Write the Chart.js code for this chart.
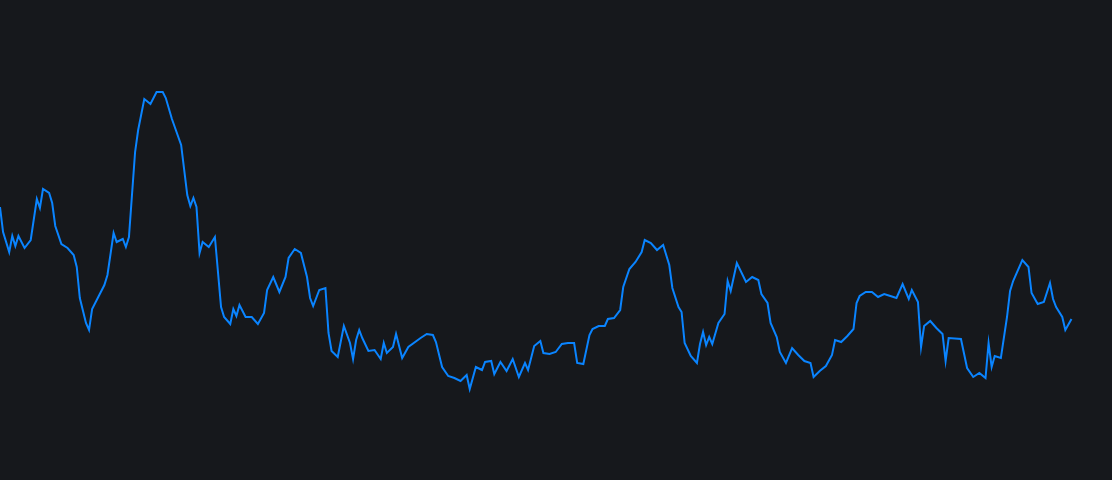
<!DOCTYPE html>
<html>
<head>
<meta charset="utf-8">
<script src="https://cdn.jsdelivr.net/npm/chart.js@4"></script>
<style>
  html, body { margin: 0; padding: 0; background: #16181c; }
  #wrap { width: 1112px; height: 480px; }
</style>
</head>
<body>
<div id="wrap"><canvas id="price"></canvas></div>
<script>
// day index of each turning point (straight runs between them left out)
const days = [
  0, 1, 3, 4, 5, 6, 8, 10, 12, 13, 14, 16, 17, 18, 20, 22, 24, 25, 26, 28, 29, 30,
  34, 35, 37, 38, 40, 41, 42, 44, 45, 47, 49, 51, 53, 54, 56, 59, 61, 62, 63, 64,
  65, 66, 68, 70, 72, 73, 75, 76, 77, 78, 80, 82, 84, 86, 87, 89, 91, 93, 94, 96,
  98, 100, 101, 102, 104, 106, 107, 108, 110, 112, 114, 115, 116, 117, 118, 120, 122, 124, 125, 126,
  128, 129, 131, 133, 137, 139, 141, 142, 144, 146, 148, 150, 152, 153, 155, 157, 158, 160,
  161, 163, 165, 167, 169, 171, 172, 174, 176, 177, 179, 181, 183, 185, 187, 188, 190, 192,
  193, 195, 197, 198, 200, 202, 203, 205, 207, 209, 210, 212, 214, 216, 218, 219, 221, 222,
  223, 225, 227, 228, 229, 230, 231, 232, 234, 236, 237, 238, 240, 243, 245, 247, 248, 250,
  251, 253, 254, 256, 258, 260, 262, 264, 265, 267, 269, 271, 272, 274, 276, 278, 279, 280,
  282, 284, 286, 288, 290, 292, 294, 296, 297, 299, 300, 301, 303, 305, 307, 308, 309, 313,
  315, 317, 319, 321, 322, 323, 324, 326, 328, 329, 330, 333, 335, 336, 338, 340, 342, 343,
  344, 346, 347, 349
];

const values = [
  273, 248, 228, 244, 234, 244, 232, 240, 281, 272, 291, 287, 277, 254, 236, 232, 225, 213, 182, 157, 150, 171,
  195, 205, 247, 238, 241, 233, 243, 328, 350, 381, 376, 388, 388, 382, 361, 335, 285, 274, 282, 273,
  227, 238, 233, 243, 173, 163, 156, 171, 164, 175, 163, 163, 156, 167, 190, 203, 188, 203, 222, 231,
  227, 203, 182, 174, 190, 192, 147, 129, 123, 154, 137, 121, 140, 150, 142, 129, 130, 121, 137, 127,
  133, 146, 122, 133, 142, 146, 145, 138, 113, 104, 102, 99, 105, 91, 113, 110, 118, 119,
  106, 118, 109, 121, 103, 117, 110, 134, 139, 127, 126, 128, 136, 137, 137, 117, 116, 145,
  151, 154, 154, 161, 162, 170, 193, 211, 218, 228, 240, 237, 230, 235, 215, 192, 173, 168,
  137, 124, 117, 136, 148, 135, 143, 136, 157, 166, 199, 189, 217, 198, 203, 200, 186, 177,
  157, 143, 128, 117, 132, 125, 119, 117, 103, 109, 114, 125, 140, 138, 144, 151, 177, 184,
  188, 188, 183, 186, 184, 182, 196, 181, 190, 178, 133, 154, 159, 152, 146, 119, 142, 141,
  112, 103, 107, 102, 137, 113, 124, 122, 163, 189, 199, 220, 213, 187, 176, 178, 197, 181,
  173, 163, 150, 161
];

const points = days.map((d, i) => ({x: d, y: values[i]}));

const ctx = document.getElementById("price");
const chart = new Chart(ctx, {
    type: "line",
    data: {
        datasets: [{
            data: points,
            borderColor: "#0a84ff",
            borderWidth: 2,
            pointRadius: 0,
            tension: 0,
            fill: false
        }]
    },
    options: {
        responsive: true,
        maintainAspectRatio: false,
        animation: false,
        layout: { padding: 0 },
        plugins: {
            legend: { display: false },
            tooltip: { enabled: false }
        },
        scales: {
            x: { type: "linear", min: 0, max: 362.2, display: false },
            y: { min: 0, max: 480, display: false }
        }
    }
});
</script>
</body>
</html>
